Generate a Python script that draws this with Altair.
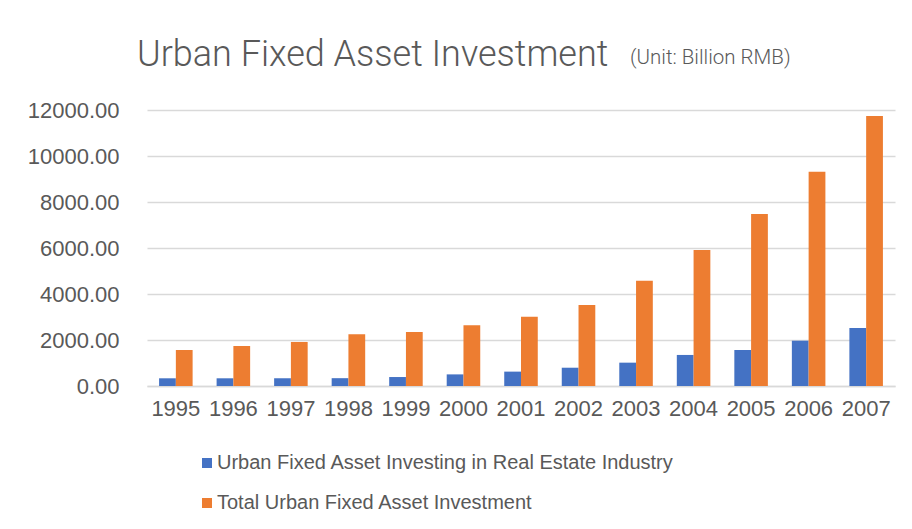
import altair as alt
import pandas as pd

years = ["1995", "1996", "1997", "1998", "1999", "2000", "2001",
         "2002", "2003", "2004", "2005", "2006", "2007"]
real_estate = [335, 335, 335, 340, 390, 505, 625, 795, 1015, 1350, 1565, 1970, 2520]
total = [1565, 1740, 1915, 2245, 2350, 2640, 3015, 3520, 4580, 5915, 7480, 9320, 11740]

s1 = "Urban Fixed Asset Investing in Real Estate Industry"
s2 = "Total Urban Fixed Asset Investment"
title_text = "Urban Fixed Asset Investment"
unit_text = "(Unit: Billion RMB)"

rows = []
for y, a, b in zip(years, real_estate, total):
    rows.append({"year": y, "series": s1, "value": a})
    rows.append({"year": y, "series": s2, "value": b})
df = pd.DataFrame(rows)

gray = "#595959"
font = "Liberation Sans"

bars = alt.Chart(df).mark_bar().encode(
    x=alt.X("year:N", sort=years,
            scale=alt.Scale(paddingInner=0.417, paddingOuter=0.21),
            axis=alt.Axis(title=None, labelAngle=0, labelFontSize=22, labelColor=gray,
                          labelFont=font, ticks=False, domainColor="#d9d9d9",
                          domainWidth=1.5, labelPadding=12)),
    xOffset=alt.XOffset("series:N", sort=[s1, s2]),
    y=alt.Y("value:Q", scale=alt.Scale(domain=[0, 12000]),
            axis=alt.Axis(title=None, values=[0, 2000, 4000, 6000, 8000, 10000, 12000],
                          format=".2f", labelFontSize=22, labelColor=gray, labelFont=font,
                          ticks=False, domain=False, gridColor="#d9d9d9", gridWidth=1.5,
                          labelPadding=28)),
    color=alt.Color("series:N", sort=[s1, s2],
                    scale=alt.Scale(domain=[s1, s2], range=["#4472C4", "#ED7D31"]),
                    legend=alt.Legend(title=None, orient="none", legendX=50, legendY=343,
                                      direction="vertical", symbolType="square",
                                      symbolSize=100, labelFontSize=20, labelColor=gray,
                                      labelFont=font, labelOffset=0, rowPadding=20,
                                      padding=0, labelLimit=600)),
)

title = alt.Chart(pd.DataFrame({"t": [title_text]})).mark_text(
    align="left", baseline="alphabetic", fontSize=36, color=gray, font="Roboto",
    fontWeight=300
).encode(x=alt.value(-10), y=alt.value(-44), text="t:N")

unit = alt.Chart(pd.DataFrame({"t": [unit_text]})).mark_text(
    align="left", baseline="alphabetic", fontSize=20.5, color=gray, font="Roboto",
    fontWeight=300
).encode(x=alt.value(483), y=alt.value(-46), text="t:N")

chart = alt.layer(bars, title, unit).properties(
    width=748, height=276,
    autosize=alt.AutoSizeParams(type="none"),
    padding={"left": 139, "top": 102, "right": 9, "bottom": 135},
).configure_view(stroke=None)

chart.save("out.html", embed_options={"renderer": "svg", "actions": False})
